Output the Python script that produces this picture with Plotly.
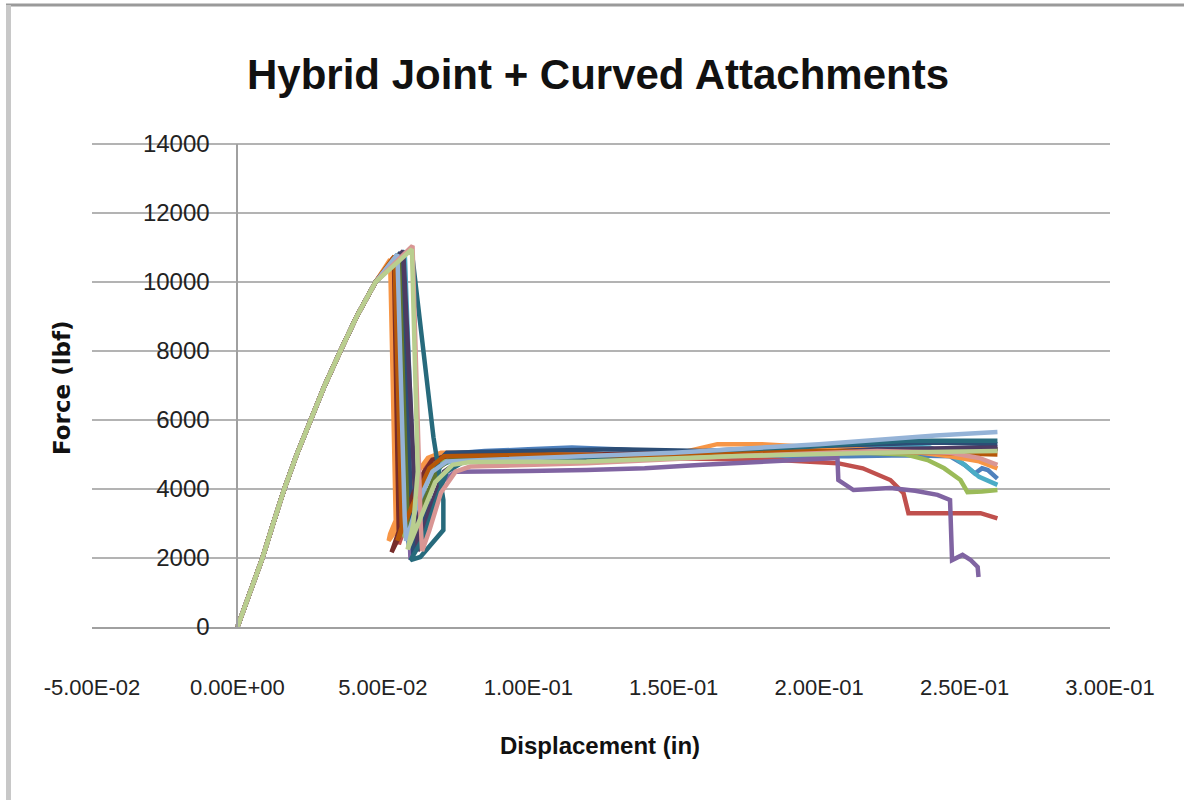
import plotly.graph_objects as go

# ---------------- data ----------------
LOAD_X = [0.0, 0.0043, 0.0086, 0.0123, 0.0161, 0.0204, 0.0251, 0.0300, 0.0354, 0.0410, 0.0475]
LOAD_Y = [0, 1000, 2000, 3000, 4000, 5000, 6000, 7000, 8000, 9000, 10000]

BLUE_X = [0.0550, 0.0580, 0.0590, 0.0620, 0.0660, 0.0700, 0.085, 0.100, 0.115, 0.130, 0.150, 0.170, 0.190, 0.210, 0.230, 0.245, 0.250, 0.2535, 0.2560, 0.2580, 0.2613]
BLUE_Y = [10800, 3000, 2300, 3200, 4600, 5000, 5100, 5150, 5200, 5150, 5050, 5000, 4950, 4950, 4980, 4950, 4700, 4450, 4600, 4550, 4300]

RED_X = [0.0535, 0.0550, 0.0555, 0.0600, 0.0650, 0.0680, 0.085, 0.100, 0.130, 0.160, 0.186, 0.2063, 0.2150, 0.2245, 0.2290, 0.2307, 0.2400, 0.2500, 0.2555, 0.2613]
RED_Y = [10700, 3000, 2400, 3500, 4700, 4950, 5000, 4950, 4900, 4880, 4840, 4750, 4600, 4260, 3880, 3300, 3300, 3320, 3300, 3150]

GREEN_X = [0.0545, 0.0570, 0.0575, 0.0630, 0.0680, 0.0720, 0.100, 0.130, 0.160, 0.190, 0.215, 0.2300, 0.2373, 0.2430, 0.2486, 0.2510, 0.2560, 0.2613]
GREEN_Y = [10750, 3000, 2600, 3800, 4700, 4850, 4850, 4900, 4980, 5050, 5050, 5000, 4840, 4600, 4260, 3910, 3930, 3970]

PURPLE_X = [0.0565, 0.0590, 0.0595, 0.0640, 0.0700, 0.0750, 0.090, 0.100, 0.120, 0.140, 0.160, 0.180, 0.195, 0.2063, 0.2066, 0.2118, 0.2245, 0.2330, 0.2407, 0.2450, 0.2457, 0.2493, 0.2520, 0.2545, 0.2548]
PURPLE_Y = [10850, 3000, 1950, 2900, 4200, 4500, 4500, 4520, 4550, 4600, 4700, 4800, 4850, 4900, 4260, 3970, 4030, 3950, 3830, 3680, 1940, 2090, 1950, 1740, 1450]

AQUA_X = [0.0575, 0.0610, 0.0620, 0.0660, 0.0700, 0.0750, 0.100, 0.120, 0.150, 0.170, 0.200, 0.220, 0.2380, 0.2460, 0.2500, 0.2550, 0.2613]
AQUA_Y = [10900, 3000, 2300, 3800, 4700, 4850, 4900, 4950, 5000, 5100, 5200, 5250, 5200, 4950, 4700, 4350, 4120]

ORANGE_X = [0.0525, 0.0545, 0.0520, 0.0525, 0.0570, 0.0605, 0.0655, 0.0700, 0.090, 0.110, 0.130, 0.150, 0.165, 0.180, 0.200, 0.2300, 0.2450, 0.2550, 0.2613]
ORANGE_Y = [10650, 2800, 2500, 2700, 3600, 4320, 4900, 5050, 5050, 4850, 4850, 5000, 5300, 5300, 5200, 5100, 4950, 4800, 4600]

DKBLUE_X = [0.0560, 0.0600, 0.0605, 0.0650, 0.0690, 0.0720, 0.100, 0.130, 0.160, 0.200, 0.240, 0.2613]
DKBLUE_Y = [10850, 3000, 2100, 3500, 4800, 5050, 5100, 5150, 5100, 5250, 5350, 5300]

DKRED_X = [0.0538, 0.0555, 0.0530, 0.0560, 0.0620, 0.0670, 0.0720, 0.120, 0.180, 0.220, 0.2613]
DKRED_Y = [10700, 2600, 2170, 2900, 4200, 4850, 4950, 5000, 5050, 5100, 5150]

DKGREEN_X = [0.0555, 0.0585, 0.0590, 0.0640, 0.0690, 0.0740, 0.120, 0.170, 0.220, 0.2613]
DKGREEN_Y = [10800, 3200, 2500, 3600, 4600, 4900, 4950, 5000, 5100, 5150]

DKPURPLE_X = [0.0570, 0.0615, 0.0620, 0.0660, 0.0710, 0.0760, 0.120, 0.170, 0.220, 0.2613]
DKPURPLE_Y = [10900, 3100, 2200, 3400, 4500, 4800, 4850, 4950, 5150, 5200]

DKTEAL_X = [0.0598, 0.0674, 0.0708, 0.0708, 0.0629, 0.0595, 0.0640, 0.0680, 0.0720, 0.0780, 0.100, 0.130, 0.160, 0.200, 0.230, 0.2613]
DKTEAL_Y = [11000, 5500, 3680, 2810, 2030, 1940, 2600, 3600, 4500, 4800, 4850, 4950, 5050, 5250, 5400, 5400]

DKORANGE_X = [0.0540, 0.0565, 0.0550, 0.0600, 0.0660, 0.0710, 0.110, 0.150, 0.200, 0.240, 0.2613]
DKORANGE_Y = [10750, 2900, 2500, 3500, 4600, 4950, 5000, 4950, 5100, 5050, 5000]

LTBLUE_X = [0.0550, 0.0575, 0.0580, 0.0620, 0.0670, 0.0720, 0.100, 0.150, 0.200, 0.240, 0.2613]
LTBLUE_Y = [10800, 3200, 2500, 3600, 4500, 4800, 4900, 5050, 5300, 5550, 5650]

PINK_X = [0.0602, 0.0630, 0.0635, 0.0660, 0.0700, 0.0750, 0.0800, 0.120, 0.170, 0.220, 0.2450, 0.2550, 0.2613]
PINK_Y = [11050, 3000, 2200, 2800, 3900, 4500, 4650, 4750, 4950, 5100, 5050, 4900, 4700]

LTGREEN_X = [0.0600, 0.0620, 0.0605, 0.0585, 0.0620, 0.0680, 0.0740, 0.0800, 0.120, 0.170, 0.220, 0.2613]
LTGREEN_Y = [10950, 4500, 3000, 2250, 3000, 4200, 4700, 4780, 4800, 4950, 5050, 5100]

X_TICKS = [-0.05, 0.0, 0.05, 0.10, 0.15, 0.20, 0.25, 0.30]
X_TICK_LABELS = ["-5.00E-02", "0.00E+00", "5.00E-02", "1.00E-01", "1.50E-01", "2.00E-01", "2.50E-01", "3.00E-01"]
Y_TICKS = [0, 2000, 4000, 6000, 8000, 10000, 12000, 14000]
Y_TICK_LABELS = ["0", "2000", "4000", "6000", "8000", "10000", "12000", "14000"]

SERIES = [
    (BLUE_X, BLUE_Y, "#4F81BD"),
    (RED_X, RED_Y, "#C0504D"),
    (GREEN_X, GREEN_Y, "#9BBB59"),
    (PURPLE_X, PURPLE_Y, "#8064A2"),
    (AQUA_X, AQUA_Y, "#4BACC6"),
    (ORANGE_X, ORANGE_Y, "#F79646"),
    (DKBLUE_X, DKBLUE_Y, "#2C4D75"),
    (DKRED_X, DKRED_Y, "#772C2A"),
    (DKGREEN_X, DKGREEN_Y, "#5F7530"),
    (DKPURPLE_X, DKPURPLE_Y, "#4D3B62"),
    (DKTEAL_X, DKTEAL_Y, "#276A7C"),
    (DKORANGE_X, DKORANGE_Y, "#B65708"),
    (LTBLUE_X, LTBLUE_Y, "#95B3D7"),
    (PINK_X, PINK_Y, "#D99694"),
    (LTGREEN_X, LTGREEN_Y, "#B9CE8F"),
]

# ---------------- figure ----------------
fig = go.Figure()
for sx, sy, col in SERIES:
    fig.add_trace(go.Scatter(
        x=LOAD_X + sx, y=LOAD_Y + sy, mode="lines",
        line=dict(color=col, width=4.5), showlegend=False, hoverinfo="skip"))

W, H = 1184, 800
L, R, T, B = 92, 74, 144, 173
pw, ph = W - L - R, H - T - B

def px(xp):
    return (xp - L) / pw

def py(yp):
    return (H - B - yp) / ph

XTICK_FONT = dict(family="Liberation Sans, Arial, sans-serif", size=22, color="#222222")
YTICK_FONT = dict(family="Liberation Sans, Arial, sans-serif", size=24, color="#222222")

fig.update_layout(
    width=W, height=H,
    margin=dict(l=L, r=R, t=T, b=B),
    paper_bgcolor="white", plot_bgcolor="white",
    title=dict(text="<b>Hybrid Joint + Curved Attachments</b>",
               x=598 / W, xanchor="center", y=1 - 74 / H, yanchor="middle",
               font=dict(family="Liberation Sans, Arial", size=42, color="#111111")),
    xaxis=dict(range=[-0.05, 0.30], tickvals=X_TICKS, ticktext=X_TICK_LABELS,
               showgrid=False, zeroline=False, showline=True, linecolor="#a0a0a0", linewidth=2,
               ticks="", tickfont=XTICK_FONT, ticklabelstandoff=40, fixedrange=True),
    yaxis=dict(range=[0, 14000], tickvals=Y_TICKS, ticktext=Y_TICK_LABELS,
               anchor="free", position=0.05 / 0.35,
               showgrid=True, gridcolor="#b3b3b3", gridwidth=2, zeroline=False,
               showline=True, linecolor="#a0a0a0", linewidth=2,
               ticks="", tickfont=YTICK_FONT, ticklabelstandoff=22, fixedrange=True),
    annotations=[
        dict(text="<b>Force (lbf)</b>", xref="paper", yref="paper", x=px(62), y=py(388),
             xanchor="center", yanchor="middle", textangle=-90, showarrow=False,
             font=dict(family="DejaVu Sans, Verdana", size=23, color="#111111")),
        dict(text="<b>Displacement (in)</b>", xref="paper", yref="paper", x=px(600), y=py(745),
             xanchor="center", yanchor="middle", showarrow=False,
             font=dict(family="Liberation Sans, Arial", size=24, color="#111111")),
    ],
    shapes=[
        # top gridline (at the upper edge of the plotting area)
        dict(type="line", xref="paper", yref="paper", x0=0, x1=1, y0=1, y1=1,
             line=dict(color="#b3b3b3", width=2), layer="below"),
        # chart-frame border
        dict(type="line", xref="paper", yref="paper", x0=px(6), x1=px(1190), y0=py(5), y1=py(5),
             line=dict(color="#9a9a9a", width=3)),
        dict(type="line", xref="paper", yref="paper", x0=px(8.5), x1=px(8.5), y0=py(5), y1=py(805),
             line=dict(color="#c8c8c8", width=5)),
    ],
)

fig.write_html("out.html", config={"displayModeBar": False},
               post_script="document.body.style.margin='0';document.body.style.padding='0';")
